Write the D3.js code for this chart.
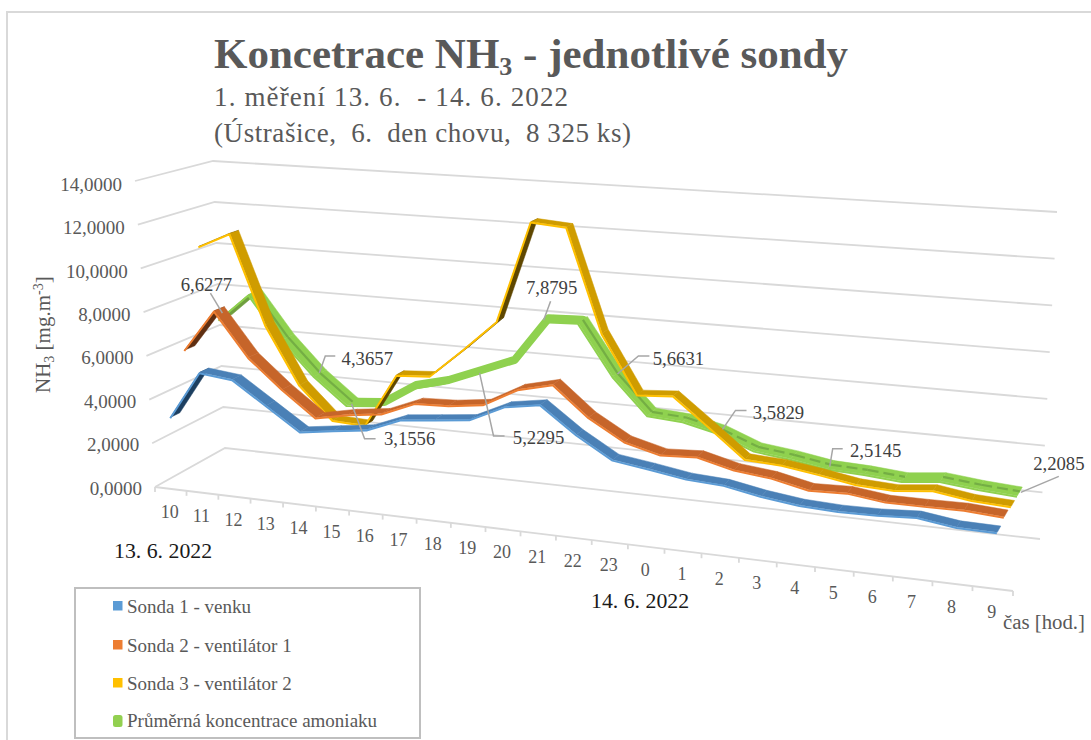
<!DOCTYPE html>
<html><head><meta charset="utf-8">
<script src="https://cdnjs.cloudflare.com/ajax/libs/d3/7.8.5/d3.min.js"></script>
<style>
html,body{margin:0;padding:0;background:#fff}
svg{display:block}
text{font-family:"Liberation Serif",serif;white-space:pre}
</style></head><body>
<svg id="c" width="1091" height="740"></svg>
<script>
// ---------- data ----------
const hours = ["10","11","12","13","14","15","16","17","18","19","20","21","22","23","0","1","2","3","4","5","6","7","8","9"];
const yTicks = [0,2,4,6,8,10,12,14];
const sonda1 = [3.17,5.38,5.21,4.18,3.16,3.37,3.57,4.17,4.33,4.49,5.21,5.45,4.31,3.40,3.18,2.93,2.84,2.55,2.35,2.28,2.30,2.39,2.17,2.14];
const sonda2 = [5.90,7.86,5.85,4.53,3.39,3.69,3.88,4.50,4.56,4.75,5.57,5.94,4.65,3.75,3.35,3.43,3.04,2.87,2.53,2.58,2.38,2.38,2.40,2.29];
const sonda3 = [10.42,11.15,6.98,4.31,2.83,2.76,5.22,5.32,6.65,8.07,12.67,12.55,7.93,5.36,5.47,4.26,3.02,2.93,2.70,2.44,2.36,2.53,2.29,2.21];
const prumer = [6.6277,7.97,5.94,4.3657,3.1556,3.29,4.24,4.62,5.2295,5.84,7.8795,7.94,5.6631,4.06,3.95,3.5829,2.97,2.78,2.5145,2.45,2.32,2.49,2.32,2.2085];
const seriesNames = ["Sonda 1 - venku","Sonda 2 - ventilátor 1","Sonda 3 - ventilátor 2","Průměrná koncentrace amoniaku"];
const seriesValues = [sonda1,sonda2,sonda3,prumer];
const labelledIndex = [0,3,4,8,10,12,15,18,23];

// ---------- styles ----------
const topColor   = ["#4a80b6","#c6652a","#cf9c00","#8fd14f"];
const frontColor = ["#5b9bd5","#ed7d31","#ffc000","#8fd14f"];
const underColor = ["#1d3f60","#5f2f12","#5f4700","#6f9f3f"];
const legendColor= ["#5b9bd5","#ed7d31","#ffc000","#92d050"];
const halfDepth  = [0.065,0.07,0.06,0.09];
const textGrey = "#595959", gridGrey = "#d9d9d9";

// ---------- 3D frame (screen corners of the plot box) ----------
const floorFL=[155,487], floorFR=[1013,591], floorBL=[225,448], floorBR=[1040,539];
const topFL=[135,181], topFR=[1033,241], topBL=[213,161], topBR=[1057,212];
const persp = 1.14;

const binScale = d3.scaleLinear().domain([0,hours.length]).range([0,1]);
const valueScale = d3.scaleLinear().domain([0,14]).range([0,1]);
const depthScale = d3.scalePoint().domain(d3.range(seriesValues.length)).range([0,1]).padding(0.5);
const along = k => { const t = binScale(k); return t/(t+persp*(1-t)); };
const mix = (a,b,u)=>[a[0]+(b[0]-a[0])*u, a[1]+(b[1]-a[1])*u];
function project(k,v,d){
  const s=along(k), h=valueScale(v);
  const floor=mix(mix(floorFL,floorFR,s),mix(floorBL,floorBR,s),d);
  const roof =mix(mix(topFL,topFR,s),mix(topBL,topBR,s),d);
  return mix(floor,roof,h);
}

const svg=d3.select("#c");
const line=d3.line();
const comma=(v,n)=>d3.format("."+n+"f")(v).replace(".",",");

// chart frame
svg.append("path").attr("d","M7,740V12H1091").attr("fill","none").attr("stroke",gridGrey).attr("stroke-width",2);

// gridlines
const grid=svg.append("g").attr("fill","none").attr("stroke",gridGrey).attr("stroke-width",1.8);
yTicks.forEach(v=>{
  grid.append("path").attr("d",line([project(0,v,0),project(0,v,1),project(hours.length,v,1)]));
});
grid.append("path").attr("d",line([project(0,0,0),project(hours.length,0,0)]));
d3.range(hours.length+1).forEach(k=>{
  const p=project(k,0,0);
  grid.append("path").attr("d",line([p,[p[0],p[1]+5]]));
});

// y labels
svg.append("g").selectAll("text").data(yTicks).join("text")
  .attr("x",v=>project(0,v,0)[0]-13).attr("y",v=>project(0,v,0)[1]+1+v/7)
  .attr("dy",".35em").attr("text-anchor","end").attr("font-size",19).attr("fill",textGrey)
  .text(v=>comma(v,4));

// x labels
svg.append("g").selectAll("text").data(hours).join("text")
  .attr("x",(h,i)=>project(i+.5,0,0)[0]-1).attr("y",(h,i)=>project(i+.5,0,0)[1]+23)
  .attr("dy",".35em").attr("text-anchor","middle").attr("font-size",18).attr("fill",textGrey)
  .text(h=>h);

// ribbons, back to front
const ribbons=svg.append("g").style("filter","blur(0.45px)");
d3.range(seriesValues.length).reverse().forEach(si=>{
  const vals=seriesValues[si], d=depthScale(si), hd=halfDepth[si], g=ribbons.append("g");
  d3.range(vals.length-1).forEach(i=>{
    const a0=project(i+.5,vals[i],d-hd), a1=project(i+1.5,vals[i+1],d-hd);
    const b0=project(i+.5,vals[i],d+hd), b1=project(i+1.5,vals[i+1],d+hd);
    const cross=(a1[0]-a0[0])*(b0[1]-a0[1])-(a1[1]-a0[1])*(b0[0]-a0[0]);
    const col=cross<0?topColor[si]:underColor[si];
    g.append("path").attr("d",line([a0,a1,b1,b0])+"Z").attr("fill",col).attr("stroke",col).attr("stroke-width",.5);
  });
  if(si===3){
    // the long gently rising stretch of the average stays wide and bright
    const wide=d3.range(4,13).map(i=>project(i+.5,vals[i],d));
    g.append("path").attr("d",line(wide)).attr("fill","none").attr("stroke",topColor[3]).attr("stroke-width",8).attr("stroke-linejoin","round");
    d3.range(vals.length-1).forEach(i=>{
      const a=project(i+.5,vals[i],d), b=project(i+1.5,vals[i+1],d);
      if(vals[i+1]<=vals[i]) g.append("path").attr("d",line([a,b])).attr("stroke","#74ae44").attr("stroke-width",2.2)
        .attr("fill","none").attr("stroke-dasharray",i>12?"11 5":null);
    });
  }
  const edge=vals.map((v,i)=>project(i+.5,v,d-hd));
  g.append("path").attr("d",line(edge.map(p=>[p[0]-.4,p[1]+.9]))).attr("fill","none")
    .attr("stroke",frontColor[si]).attr("stroke-width",2).attr("stroke-linejoin","round");
});

// data labels
const labelTextOffset=[[-19,-33],[47,-15],[57,37],[57,68],[3,-31],[61,-15],[56,-17],[45,-14],[39,-28]];
const labelLeader=[
  [[-3,-4],[-15,-24]],
  [[-1,0],[5,-17],[15,-17]],
  [[-1,2],[12,37],[23,37]],
  [[-2,3],[12,66],[23,66]],
  [[-5,2],[2,-17]],
  [[0,1],[21,-17],[32,-17]],
  [[0,0],[13,-19],[24,-19]],
  [[-1,2],[2,-16],[12,-16]],
  [[1,1],[39,-15]]
];
const lg=svg.append("g");
labelledIndex.forEach((idx,n)=>{
  const p=project(idx+.5,prumer[idx],depthScale(3));
  lg.append("path").attr("d",line(labelLeader[n].map(o=>[p[0]+o[0],p[1]+o[1]])))
    .attr("fill","none").attr("stroke","#a6a6a6").attr("stroke-width",1.5);
  lg.append("text").attr("x",p[0]+labelTextOffset[n][0]).attr("y",p[1]+labelTextOffset[n][1])
    .attr("dy",".35em").attr("text-anchor","middle").attr("font-size",18.7).attr("fill","#404040")
    .text(comma(prumer[idx],4));
});

// titles
const title=svg.append("text").attr("x",214).attr("y",68).attr("font-size",43).attr("font-weight","bold").attr("fill",textGrey);
title.append("tspan").text("Koncetrace NH");
title.append("tspan").attr("font-size",26).attr("dy",7).text("3");
title.append("tspan").attr("dy",-7).text(" - jednotlivé sondy");
svg.append("text").attr("x",214).attr("y",106).attr("font-size",27).attr("fill",textGrey)
  .attr("textLength",354).attr("lengthAdjust","spacing").text("1. měření 13. 6.  - 14. 6. 2022");
svg.append("text").attr("x",214).attr("y",142).attr("font-size",27).attr("fill",textGrey)
  .attr("textLength",417).attr("lengthAdjust","spacing").text("(Ústrašice,  6.  den chovu,  8 325 ks)");

// axis title y
const yt=svg.append("text").attr("transform","translate(50,393) rotate(-90)").attr("font-size",21).attr("fill",textGrey);
yt.append("tspan").text("NH");
yt.append("tspan").attr("font-size",14).attr("dy",4).text("3");
yt.append("tspan").attr("dy",-4).text(" [mg.m");
yt.append("tspan").attr("font-size",14).attr("dy",-7).text("-3");
yt.append("tspan").attr("dy",7).text("]");

// axis title x + dates
svg.append("text").attr("x",1003).attr("y",629).attr("font-size",20.8).attr("fill",textGrey).text("čas [hod.]");
svg.append("text").attr("x",114).attr("y",558).attr("font-size",21.8).attr("fill","#1a1a1a").text("13. 6. 2022");
svg.append("text").attr("x",591).attr("y",608).attr("font-size",21.8).attr("fill","#1a1a1a").text("14. 6. 2022");

// legend
svg.append("rect").attr("x",75).attr("y",588).attr("width",345).attr("height",150).attr("fill","#fff").attr("stroke","#bfbfbf").attr("stroke-width",2);
const legendRowY=[606,645,683,720];
seriesNames.forEach((n,i)=>{
  svg.append("rect").attr("x",113).attr("y",legendRowY[i]-5).attr("width",9.5).attr("height",i===3?12:9.5)
    .attr("rx",i===3?2.5:0).attr("fill",legendColor[i]);
  svg.append("text").attr("x",127).attr("y",legendRowY[i]).attr("dy",".35em").attr("font-size",19).attr("fill",textGrey).text(n);
});
</script></body></html>
